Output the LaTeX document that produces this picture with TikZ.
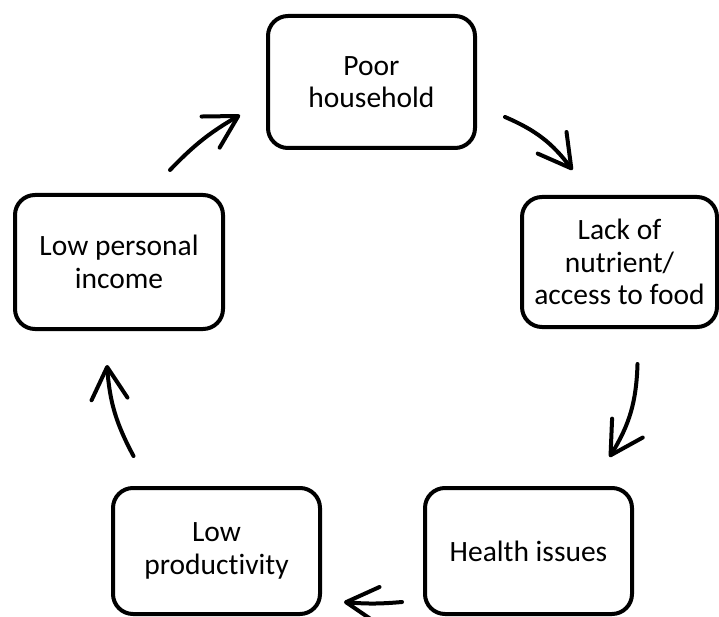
\documentclass[tikz,border=0pt]{standalone}
\usepackage{fontspec}
\setmainfont{Carlito}[Ligatures=NoCommon]
\usetikzlibrary{arrows.meta}
\begin{document}
\begin{tikzpicture}[x=1pt,y=-1pt,
  box/.style={draw=black, line width=4pt, rounded corners=20pt, align=center,
    inner sep=0pt, font=\fontsize{29.5}{32.5}\selectfont},
  cyc/.style={line width=4pt, line cap=round,
    -{Straight Barb[length=32pt,width=36pt,line width=4pt,round]}}]
\useasboundingbox (0,0) rectangle (719,617);
\node[box, minimum width=207pt, minimum height=132pt] (poor) at (371.5,82) {Poor\\household};
\node[box, minimum width=195pt, minimum height=130pt] (lack) at (619.5,262) {Lack of\\nutrient/\\access to food};
\node[box, minimum width=207pt, minimum height=126pt] (health) at (528.5,551) {Health issues};
\node[box, minimum width=207pt, minimum height=126pt] (prod) at (216.5,551) {Low\\productivity};
\node[box, minimum width=208pt, minimum height=134pt] (income) at (119,262) {Low personal\\income};
\coordinate (a1s) at ([shift={(28,-33)}]poor.south east);
\coordinate (a1e) at ([shift={(-47,-25)}]lack.north);
\coordinate (a2s) at ([shift={(18,35)}]lack.south);
\coordinate (a2e) at ([shift={(81,-29)}]health.north);
\coordinate (a3s) at ([shift={(-21,51)}]health.west);
\coordinate (a3e) at ([shift={(22,51)}]prod.east);
\coordinate (a4s) at ([shift={(-83,-30)}]prod.north);
\coordinate (a4e) at ([shift={(-12,34)}]income.south);
\coordinate (a5s) at ([shift={(51,-23)}]income.north);
\coordinate (a5e) at ([shift={(-26,33)}]poor.west);
\draw[cyc] (a1s) to[bend left=15] (a1e);
\draw[cyc] (a2s) to[bend left=15] (a2e);
\draw[cyc] (a3s) to[bend left=5] (a3e);
\draw[cyc] (a4s) to[bend left=12] (a4e);
\draw[cyc] (a5s) to[bend left=8] (a5e);
\end{tikzpicture}
\end{document}
